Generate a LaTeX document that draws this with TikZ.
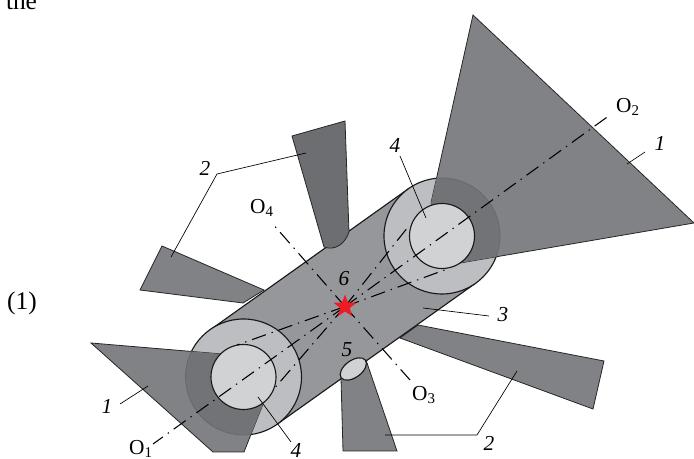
\documentclass[tikz,border=0pt]{standalone}
\usepackage{fontspec}
\setmainfont{Liberation Serif}
\usetikzlibrary{shapes.geometric}
\definecolor{tubegray}{RGB}{150,151,155}
\definecolor{disclight}{RGB}{188,190,194}
\definecolor{bore}{RGB}{209,210,212}
\definecolor{conegray}{RGB}{128,130,133}
\definecolor{conedark}{RGB}{109,110,113}
\definecolor{overlap}{RGB}{114,115,118}
\definecolor{flashred}{RGB}{237,28,36}
\tikzstyle{outline} = [draw=black!85,line width=0.6pt]
\tikzstyle{rim} = [draw=black!90,line width=0.85pt]
\tikzstyle{leader} = [line width=0.5pt]
\tikzstyle{axis} = [line width=0.8pt,dash pattern={on 11pt off 4.5pt on 1pt off 4.5pt}]
\tikzstyle{lbl} = [inner sep=0.75pt,font=\fontsize{16}{18}\selectfont]
\tikzstyle{num} = [lbl,font=\fontsize{16}{18}\selectfont\itshape]
\tikzstyle{body} = [inner sep=0.75pt,font=\fontsize{19}{21}\selectfont]
\tikzstyle{flashstar} = [star,star points=5,star point ratio=2.4,fill=flashred,inner sep=0pt,minimum size=18pt]

\begin{document}
\begin{tikzpicture}[x=0.75pt,y=0.75pt,yscale=-1,xscale=1]
\useasboundingbox (0,0) rectangle (694,459);

%Axis end points
\coordinate (endOa) at (153,444);
\coordinate (endOb) at (610,115);
\coordinate (endOc) at (410,380);
\coordinate (endOd) at (272,223);
\coordinate (discA) at (243.5,377);
\coordinate (discB) at (442,236);

%Shape: side nozzles behind the tube
\draw [outline,fill=conegray] (162,246) -- (140,290) -- (243,303) -- (264,290) -- cycle ;
\draw [outline,fill=conegray] (604,361) -- (593,409) -- (400,338) -- (418,325) -- cycle ;

%Shape: tube
\draw [rim,fill=tubegray] (210,330) -- (408.5,188.7) -- (475.5,283.3) -- (277,424.3) -- cycle ;

%Shape: Circle, end discs
\draw [rim,fill=disclight] (discA) circle (58) ;
\draw [rim,fill=disclight] (discB) circle (58) ;

%Shape: main cones
\draw [outline,fill=conegray] (473,15) -- (694,223) -- (460,263) -- (431,203) -- cycle ;
\draw [outline,fill=conegray] (91,343) -- (222,354) -- (263,404) -- (244,452) -- (213,452) -- cycle ;

%Shape: disc seen through the cones
\begin{scope}
\clip (473,15) -- (694,223) -- (460,263) -- (431,203) -- cycle ;
\draw [draw=black!60,line width=0.5pt,fill=overlap] (discB) circle (58) ;
\end{scope}
\begin{scope}
\clip (91,343) -- (222,354) -- (263,404) -- (244,452) -- (213,452) -- cycle ;
\draw [draw=black!60,line width=0.5pt,fill=overlap] (discA) circle (58) ;
\end{scope}

%Shape: Circle, bores
\draw [rim,fill=bore] (discA) circle (32.5) ;
\draw [rim,fill=bore] (discB) circle (32.5) ;

%Shape: nozzles on the tube
\draw [outline,fill=conedark] (292,136) -- (345,121) -- (349,232) .. controls (345,244) and (335,251) .. (324,247) -- cycle ;
\draw [outline,fill=conegray] (343,451) -- (397,451) -- (366,360) -- (341,378) -- cycle ;
\draw [rim,fill=bore,rotate around={-36:(353.3,369)}] (353.3,369) ellipse (15 and 8.5) ;

%Straight Lines, axes
\coordinate (flashC) at (345,306.5);
\draw [axis] (flashC) -- (endOa) ;
\draw [axis] (flashC) -- (endOb) ;
\draw [axis] (flashC) -- (endOd) ;
\draw [axis] (flashC) -- (endOc) ;
\draw [axis] (flashC) -- (237,345) ;
\draw [axis] (flashC) -- (273,390) ;
\draw [axis] (flashC) -- (408,227) ;
\draw [axis] (flashC) -- (450,268) ;

%Shape: flash
\node (flash) [flashstar] at (flashC) {};

%Straight Lines, leaders
\draw [leader] (645,152) -- (627,164) ;
\draw [leader] (400,156) -- (426,218) ;
\draw [leader] (306,153) -- (217,174) -- (171,257) ;
\draw [leader] (423,308) -- (489,316) ;
\draw [leader] (385,435) -- (477,435) -- (517,371) ;
\draw [leader] (120,404) -- (148,386) ;
\draw [leader] (258,397) -- (291,442) ;

% Text Node
\node (txtThe) [body,anchor=base] at (21.5,10) {the};
% Text Node
\node (txtEq) [body] at (22,303) {(1)};
% Text Node
\node (txtOa) [lbl] at (141,449) {O\textsubscript{1}};
% Text Node
\node (txtOb) [lbl] at (628,107) {O\textsubscript{2}};
% Text Node
\node (txtOc) [lbl] at (424,395) {O\textsubscript{3}};
% Text Node
\node (txtOd) [lbl] at (262,208) {O\textsubscript{4}};
% Text Node
\node (numCa) [num] at (660,143) {1};
% Text Node
\node (numCb) [num] at (107,406) {1};
% Text Node
\node (numSa) [num] at (205,168) {2};
% Text Node
\node (numSb) [num] at (489,443) {2};
% Text Node
\node (numT) [num] at (503,315) {3};
% Text Node
\node (numBa) [num] at (395,145) {4};
% Text Node
\node (numBb) [num] at (296,450) {4};
% Text Node
\node (numH) [num] at (347,350) {5};
% Text Node
\node (numF) [num] at (344,279) {6};

\end{tikzpicture}
\end{document}
